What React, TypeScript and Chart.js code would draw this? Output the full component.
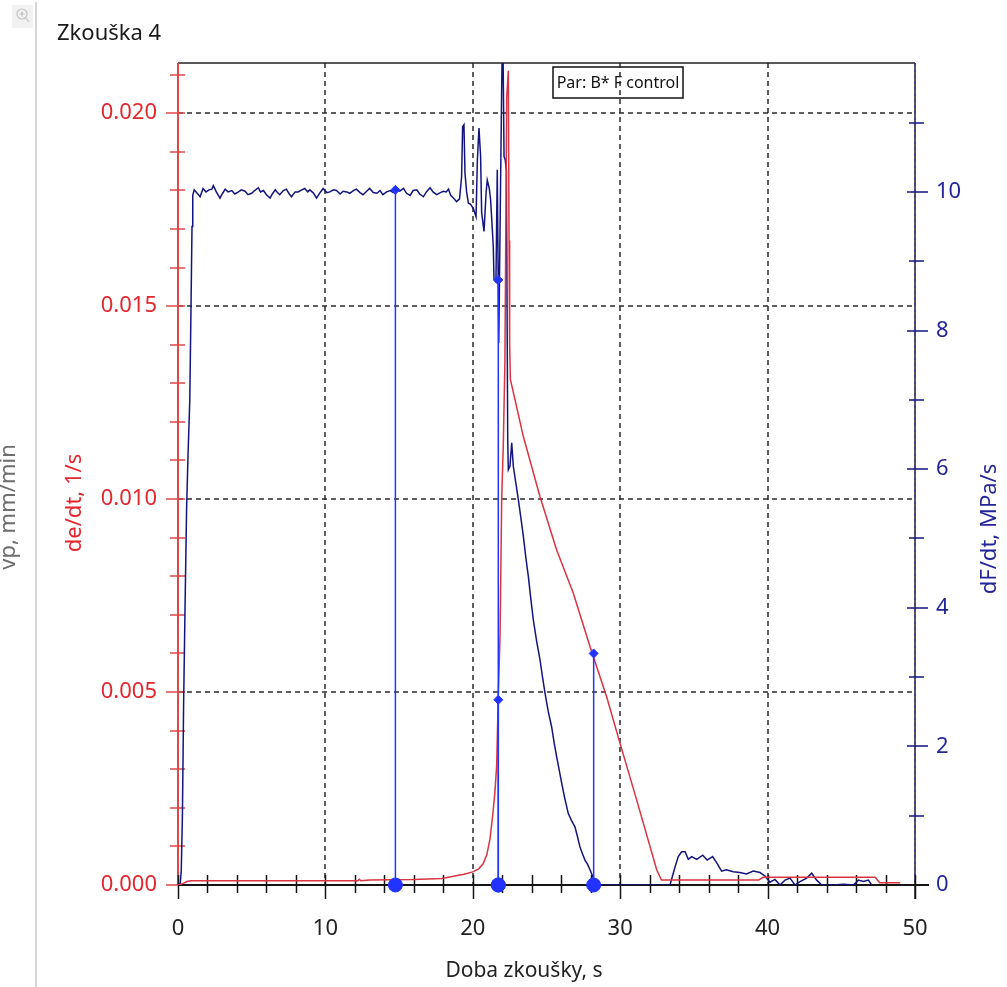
import { useEffect, useRef } from 'react';
import { Chart, registerables } from 'chart.js';

Chart.register(...registerables);

const WIDTH = 1007;
const HEIGHT = 987;
const FONT = "'Noto Sans', 'Open Sans', sans-serif";

// Axis ticks and their printed labels
const timeTicks = [0, 10, 20, 30, 40, 50];
const timeTickLabels = ['0', '10', '20', '30', '40', '50'];
const strainTicks = [0, 0.005, 0.01, 0.015, 0.02];
const strainTickLabels = ['0.000', '0.005', '0.010', '0.015', '0.020'];
const loadTicks = [0, 2, 4, 6, 8, 10];
const loadTickLabels = ['0', '2', '4', '6', '8', '10'];

// de/dt, 1/s  —  [time s, value]
const strainRate: [number, number][] = [
  [0, 0], [0.3, 0.00003], [0.6, 0.00009], [0.9, 0.00011], [12.2, 0.00011], [12.3, 0.00015],
  [12.4, 0.00011], [13.0, 0.00013], [16.0, 0.00014], [17.9, 0.00017], [18.6, 0.00022],
  [19.4, 0.00028], [20.0, 0.00034], [20.4, 0.00042], [20.7, 0.00055], [20.95, 0.00078],
  [21.17, 0.0012], [21.35, 0.0018], [21.5, 0.0024], [21.62, 0.0031], [21.73, 0.0049],
  [21.85, 0.0065], [21.96, 0.01], [22.07, 0.0114], [22.18, 0.0136], [22.3, 0.0204],
  [22.41, 0.0211], [22.46, 0.0167], [22.5, 0.014], [22.55, 0.0131], [23.43, 0.01162],
  [24.56, 0.01006], [25.69, 0.00868], [26.82, 0.00756], [27.95, 0.00618], [29.08, 0.00488],
  [29.99, 0.00367], [31.12, 0.0022], [32.48, 0.00039], [32.8, 0.00013], [39.4, 0.00013],
  [39.7, 0.0002], [47.3, 0.0002], [47.6, 0.00006], [49.0, 0.00006],
];

// dF/dt, MPa/s  —  [time s, value]
const loadRate: [number, number][] = [
  [0, 0], [0.15, 0.02], [0.22, 0.2], [0.3, 1.0], [0.38, 2.6], [0.47, 3.9], [0.58, 5.4],
  [0.68, 6.2], [0.8, 7.0], [0.88, 8.3], [0.95, 9.5], [1.0, 9.95], [1.1, 10.03], [1.3, 9.98],
  [1.5, 9.93], [1.7, 10.05], [1.9, 10.0], [2.1, 10.03], [2.3, 10.04], [2.4, 10.09], [2.6, 10.0],
  [2.85, 9.91], [3.0, 9.97], [3.2, 10.04], [3.4, 10.0], [3.65, 10.02], [3.85, 9.97], [4.1, 10.0],
  [4.3, 10.03], [4.55, 10.01], [4.75, 9.96], [5.0, 9.98], [5.2, 10.02], [5.45, 10.06], [5.6, 10.0],
  [5.8, 10.02], [6.0, 9.96], [6.25, 9.91], [6.4, 9.97], [6.6, 10.03], [6.75, 9.99], [6.9, 9.96],
  [7.15, 10.02], [7.35, 10.04], [7.55, 9.97], [7.7, 9.93], [7.95, 10.0], [8.15, 10.0], [8.4, 10.03],
  [8.6, 10.05], [8.8, 10.0], [8.95, 10.03], [9.2, 9.98], [9.4, 9.91], [9.6, 9.98], [9.85, 10.05],
  [10.1, 9.99], [10.3, 10.0], [10.55, 10.03], [10.75, 10.02], [11.0, 9.97], [11.2, 10.01],
  [11.45, 10.0], [11.65, 9.98], [11.9, 10.02], [12.1, 10.04], [12.35, 9.99], [12.55, 9.96],
  [12.8, 10.01], [13.0, 10.05], [13.25, 9.99], [13.5, 9.98], [13.7, 10.02], [13.9, 9.96],
  [14.15, 10.0], [14.4, 10.02], [14.6, 9.99], [14.85, 10.03], [15.05, 10.01], [15.3, 10.05],
  [15.5, 9.98], [15.75, 9.95], [15.95, 10.02], [16.2, 10.03], [16.4, 9.97], [16.65, 9.93],
  [16.85, 10.0], [17.1, 10.06], [17.3, 10.0], [17.55, 9.96], [17.8, 9.99], [18.0, 10.01],
  [18.2, 10.0], [18.35, 10.04], [18.5, 9.95], [18.7, 9.91], [18.9, 9.86], [19.1, 9.9],
  [19.24, 10.22], [19.31, 10.94], [19.4, 10.97], [19.47, 10.27], [19.58, 10.0], [19.7, 9.84],
  [19.85, 9.82], [20.04, 9.76], [20.22, 9.64], [20.31, 10.46], [20.42, 10.92], [20.53, 10.51],
  [20.6, 9.7], [20.76, 9.43], [20.9, 9.98], [20.98, 10.17], [21.12, 10.05], [21.21, 9.88],
  [21.3, 9.55], [21.39, 9.21], [21.44, 8.73], [21.57, 8.7], [21.66, 10.32], [21.76, 7.82],
  [21.96, 11.52], [22.03, 12.5], [22.12, 10.51], [22.2, 10.46], [22.28, 10.3], [22.37, 6.42],
  [22.41, 5.99], [22.52, 6.04], [22.64, 6.38], [22.75, 6.04], [22.92, 5.8], [23.09, 5.56],
  [23.26, 5.3], [23.43, 5.03], [23.6, 4.72], [23.77, 4.45], [23.94, 4.12], [24.11, 3.82],
  [24.33, 3.52], [24.56, 3.25], [24.73, 3.0], [24.9, 2.77], [25.12, 2.5], [25.35, 2.28],
  [25.52, 2.05], [25.69, 1.85], [25.86, 1.66], [26.03, 1.47], [26.25, 1.24], [26.48, 1.03],
  [26.7, 0.93], [26.93, 0.84], [27.1, 0.7], [27.27, 0.55], [27.44, 0.45], [27.61, 0.36],
  [27.78, 0.3], [27.95, 0.22], [28.18, 0.1], [28.4, 0], [33.38, 0], [33.72, 0.26], [33.94, 0.41],
  [34.17, 0.48], [34.4, 0.48], [34.62, 0.37], [34.85, 0.41], [35.19, 0.37], [35.6, 0.43],
  [35.9, 0.36], [36.27, 0.41], [36.55, 0.32], [36.88, 0.2], [37.2, 0.22], [37.67, 0.19],
  [38.12, 0.18], [38.57, 0.16], [39.03, 0.2], [39.48, 0.18], [39.82, 0.13], [40.16, 0.04],
  [40.5, 0.08], [40.84, 0], [41.18, 0.07], [41.52, 0.1], [41.86, 0], [42.2, 0.05], [42.65, 0.1],
  [42.99, 0.17], [43.33, 0.07], [43.67, 0], [44.46, 0], [45.14, 0.01], [45.82, 0], [46.16, 0.07],
  [46.5, 0.05], [46.84, 0.07], [47.06, 0],
];

// Evaluation marks: stems on the dF/dt axis and on the de/dt axis
const loadMarks: [number, number][] = [[14.75, 10.03], [21.73, 8.73]];
const strainMarks: [number, number][] = [[21.73, 0.0048], [28.2, 0.006]];

const RED_TEXT = '#e3262e';
const RED_LINE = '#d93440';
const RED_AXIS = '#e04848';
const NAVY_TEXT = '#25259a';
const NAVY_LINE = '#14147f';
const STEM = '#2233ff';

const toPoints = (arr: [number, number][]) => arr.map(([x, y]) => ({ x, y }));
const toStems = (arr: [number, number][]) =>
  arr.flatMap(([x, y]) => [{ x, y: 0 }, { x, y }, { x, y: null as any }]);

function rotatedText(ctx: CanvasRenderingContext2D, text: string, x: number, y: number, color: string, size: number) {
  ctx.save();
  ctx.translate(x, y);
  ctx.rotate(-Math.PI / 2);
  ctx.textAlign = 'center';
  ctx.textBaseline = 'middle';
  ctx.fillStyle = color;
  ctx.font = `${size}px ${FONT}`;
  ctx.fillText(text, 0, 0);
  ctx.restore();
}

const decorPlugin = {
  id: 'decor',
  beforeDraw(chart: any) {
    const ctx: CanvasRenderingContext2D = chart.ctx;
    ctx.save();
    // left panel separator and zoom button
    ctx.strokeStyle = '#c9c9c9';
    ctx.lineWidth = 1.5;
    ctx.beginPath();
    ctx.moveTo(36, 2);
    ctx.lineTo(36, HEIGHT);
    ctx.stroke();
    ctx.fillStyle = '#f1f1f1';
    ctx.fillRect(12, 5, 21, 23);
    ctx.strokeStyle = '#c4c4c4';
    ctx.lineWidth = 1.2;
    ctx.beginPath();
    ctx.arc(22, 14, 5, 0, Math.PI * 2);
    ctx.moveTo(19.5, 14);
    ctx.lineTo(24.5, 14);
    ctx.moveTo(22, 11.5);
    ctx.lineTo(22, 16.5);
    ctx.moveTo(25.5, 17.5);
    ctx.lineTo(29, 22);
    ctx.stroke();

    // title
    ctx.fillStyle = '#1a1a1a';
    ctx.font = `22px ${FONT}`;
    ctx.textAlign = 'left';
    ctx.textBaseline = 'alphabetic';
    ctx.fillText('Zkouška 4', 57, 40);

    // axis titles
    rotatedText(ctx, 'vp, mm/min', 9, 507, '#6e6e6e', 22);
    rotatedText(ctx, 'de/dt, 1/s', 75, 503, RED_TEXT, 22);
    rotatedText(ctx, 'dF/dt, MPa/s', 990, 529, NAVY_TEXT, 22);
    ctx.fillStyle = '#222';
    ctx.textAlign = 'center';
    ctx.textBaseline = 'middle';
    ctx.font = `21px ${FONT}`;
    ctx.fillText('Doba zkoušky, s', 524, 971);

    // parameter box
    ctx.fillStyle = '#fff';
    ctx.fillRect(553, 67, 130, 31);
    ctx.strokeStyle = '#111';
    ctx.lineWidth = 1.5;
    ctx.strokeRect(553, 67, 130, 31);
    ctx.fillStyle = '#111';
    ctx.font = `16px ${FONT}`;
    ctx.textAlign = 'center';
    ctx.fillText('Par: B* F control', 618, 83);
    ctx.restore();
  },
  beforeDatasetsDraw(chart: any) {
    const ctx: CanvasRenderingContext2D = chart.ctx;
    const { left, right, top, bottom } = chart.chartArea;
    const xs = chart.scales.x;
    const ys = chart.scales.y;
    const y2 = chart.scales.y2;
    ctx.save();

    // dashed grid
    ctx.strokeStyle = '#2a2a2a';
    ctx.lineWidth = 1.5;
    ctx.setLineDash([5, 4]);
    ctx.beginPath();
    timeTicks.slice(1, -1).forEach((t) => {
      const px = Math.round(xs.getPixelForValue(t));
      ctx.moveTo(px, top);
      ctx.lineTo(px, bottom);
    });
    strainTicks.slice(1).forEach((v) => {
      const py = Math.round(ys.getPixelForValue(v));
      ctx.moveTo(left, py);
      ctx.lineTo(right, py);
    });
    ctx.stroke();
    ctx.setLineDash([]);

    // frame
    ctx.strokeStyle = '#222';
    ctx.lineWidth = 1.5;
    ctx.beginPath();
    ctx.moveTo(left, top);
    ctx.lineTo(right, top);
    ctx.stroke();

    // right axis (dark frame with blue overlay)
    ctx.beginPath();
    ctx.moveTo(right, top);
    ctx.lineTo(right, bottom + 14);
    ctx.stroke();
    ctx.strokeStyle = '#3030c0';
    ctx.lineWidth = 1;
    ctx.setLineDash([3, 3]);
    ctx.beginPath();
    ctx.moveTo(right, top);
    ctx.lineTo(right, bottom);
    ctx.stroke();
    ctx.setLineDash([]);

    // right axis ticks, every 1 MPa/s
    ctx.strokeStyle = NAVY_LINE;
    ctx.lineWidth = 1.5;
    ctx.beginPath();
    for (let v = 1; v <= 11; v++) {
      const py = Math.round(y2.getPixelForValue(v));
      const major = v % 2 === 0;
      ctx.moveTo(right - (major ? 8 : 6), py);
      ctx.lineTo(right + (major ? 13 : 9), py);
    }
    ctx.stroke();

    // left axis
    ctx.strokeStyle = RED_AXIS;
    ctx.lineWidth = 2;
    ctx.beginPath();
    ctx.moveTo(left, top);
    ctx.lineTo(left, bottom);
    ctx.stroke();
    ctx.lineWidth = 1.5;
    ctx.beginPath();
    for (let i = 0; i <= 21; i++) {
      const py = Math.round(ys.getPixelForValue(i * 0.001));
      const major = i % 5 === 0;
      ctx.moveTo(left - (major ? 12 : 8), py);
      ctx.lineTo(left + 7, py);
    }
    ctx.stroke();

    // bottom axis
    ctx.strokeStyle = '#151515';
    ctx.lineWidth = 2;
    ctx.beginPath();
    ctx.moveTo(left, bottom);
    ctx.lineTo(right + 14, bottom);
    ctx.stroke();
    ctx.lineWidth = 1.5;
    ctx.beginPath();
    for (let t = 0; t <= 50; t += 2) {
      const px = Math.round(xs.getPixelForValue(t)) + 0.5;
      const major = t % 10 === 0;
      ctx.moveTo(px, bottom - 10);
      ctx.lineTo(px, bottom + (major ? 14 : 8));
    }
    ctx.stroke();
    ctx.restore();
  },
};

export default function App() {
  const canvasRef = useRef<HTMLCanvasElement | null>(null);

  useEffect(() => {
    const canvas = canvasRef.current;
    if (!canvas) return;
    const markerBase = [...loadMarks, ...strainMarks].map(([x]) => ({ x, y: 0 }));

    const chart = new Chart(canvas, {
      type: 'line',
      data: {
        datasets: [
          {
            data: markerBase,
            yAxisID: 'y2',
            showLine: false,
            clip: false,
            pointRadius: 7,
            pointStyle: 'circle',
            pointBackgroundColor: STEM,
            pointBorderColor: STEM,
          },
          {
            data: toPoints(loadMarks),
            yAxisID: 'y2',
            showLine: false,
            clip: false,
            pointRadius: 4.5,
            pointStyle: 'rectRot',
            pointBackgroundColor: STEM,
            pointBorderColor: STEM,
          },
          {
            data: toPoints(strainMarks),
            yAxisID: 'y',
            showLine: false,
            clip: false,
            pointRadius: 4.5,
            pointStyle: 'rectRot',
            pointBackgroundColor: STEM,
            pointBorderColor: STEM,
          },
          {
            data: toStems(loadMarks),
            yAxisID: 'y2',
            borderColor: STEM,
            borderWidth: 1.5,
            pointRadius: 0,
            spanGaps: false,
          },
          {
            data: toStems(strainMarks),
            yAxisID: 'y',
            borderColor: STEM,
            borderWidth: 1.5,
            pointRadius: 0,
            spanGaps: false,
          },
          {
            label: 'de/dt',
            data: toPoints(strainRate),
            yAxisID: 'y',
            borderColor: RED_LINE,
            borderWidth: 1.5,
            pointRadius: 0,
            tension: 0,
          },
          {
            label: 'dF/dt',
            data: toPoints(loadRate),
            yAxisID: 'y2',
            borderColor: NAVY_LINE,
            borderWidth: 1.5,
            pointRadius: 0,
            tension: 0,
          },
        ],
      },
      options: {
        responsive: false,
        animation: false,
        devicePixelRatio: 1,
        events: [],
        layout: { padding: { top: 63, left: 0, right: 0, bottom: 0 } },
        plugins: { legend: { display: false }, tooltip: { enabled: false } },
        scales: {
          x: {
            type: 'linear',
            min: 0,
            max: 50,
            afterBuildTicks: (s: any) => { s.ticks = timeTicks.map((value) => ({ value })); },
            afterFit: (s: any) => { s.height = 102; },
            grid: { display: false, drawTicks: false },
            border: { display: false },
            ticks: {
              autoSkip: false,
              maxRotation: 0,
              padding: 31,
              color: '#222',
              font: { family: FONT, size: 22 },
              callback: (_v: any, i: number) => timeTickLabels[i],
            },
          },
          y: {
            type: 'linear',
            position: 'left',
            min: 0,
            max: 0.0213,
            afterBuildTicks: (s: any) => { s.ticks = strainTicks.map((value) => ({ value })); },
            afterFit: (s: any) => { s.width = 178; },
            grid: { display: false, drawTicks: false },
            border: { display: false },
            ticks: {
              padding: 21,
              color: RED_TEXT,
              font: { family: FONT, size: 22 },
              callback: (_v: any, i: number) => strainTickLabels[i],
            },
          },
          y2: {
            type: 'linear',
            position: 'right',
            min: 0,
            max: 11.86,
            afterBuildTicks: (s: any) => { s.ticks = loadTicks.map((value) => ({ value })); },
            afterFit: (s: any) => { s.width = 92; },
            grid: { display: false, drawTicks: false },
            border: { display: false },
            ticks: {
              padding: 21,
              color: NAVY_TEXT,
              font: { family: FONT, size: 22 },
              callback: (_v: any, i: number) => loadTickLabels[i],
            },
          },
        },
      },
      plugins: [decorPlugin],
    } as any);

    return () => chart.destroy();
  }, []);

  return (
    <div style={{ position: 'fixed', left: 0, top: 0, width: WIDTH, height: HEIGHT, background: '#fff' }}>
      <canvas ref={canvasRef} width={WIDTH} height={HEIGHT} style={{ display: 'block' }} />
    </div>
  );
}
